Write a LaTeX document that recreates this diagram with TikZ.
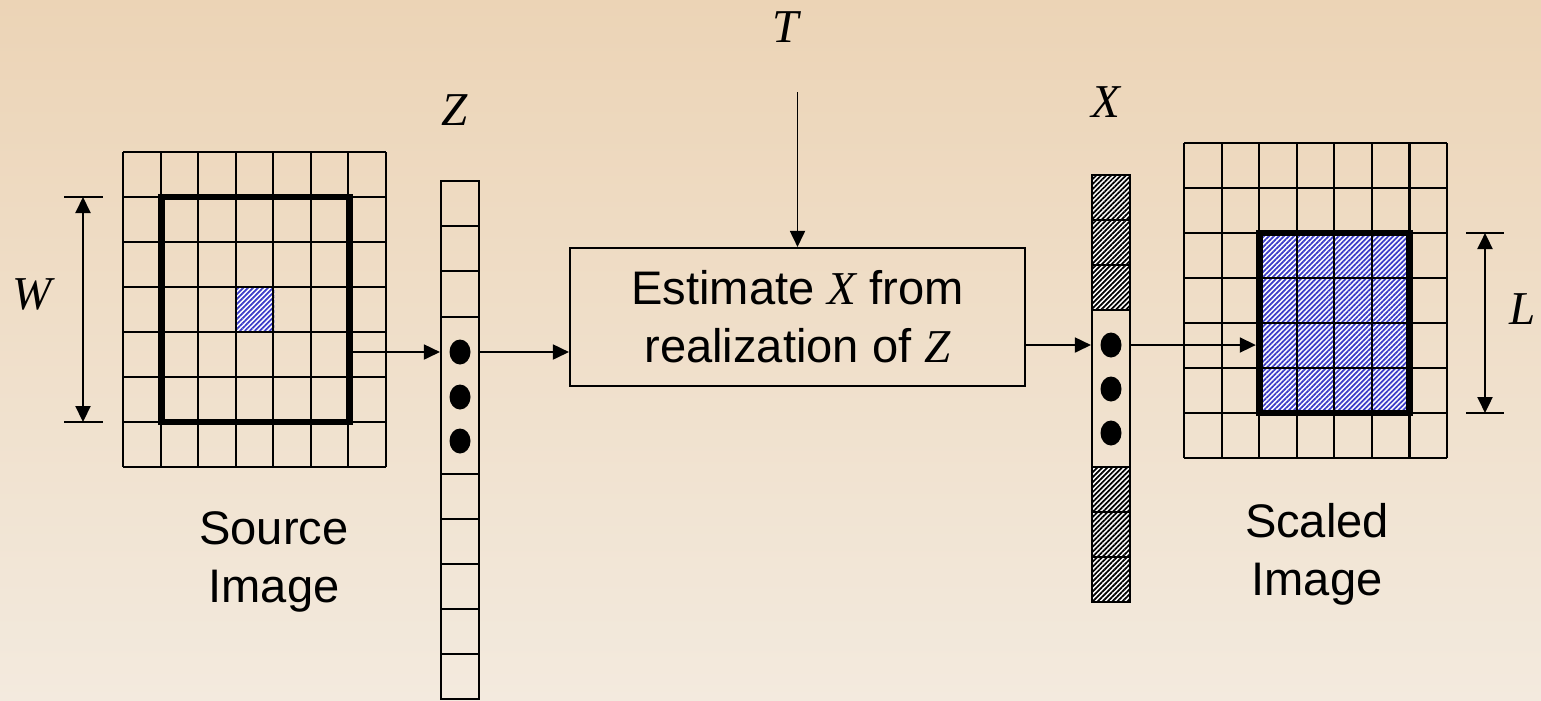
\documentclass[tikz,border=0pt]{standalone}
\usepackage{fontspec}
\setmainfont{Liberation Sans}
\newfontfamily\tms{Liberation Serif}
\usepackage{tikz}
\usetikzlibrary{arrows.meta,patterns.meta,shapes.geometric}
\definecolor{bgtop}{RGB}{236,212,182}
\definecolor{bgbot}{RGB}{243,234,222}
\definecolor{hatchblue}{RGB}{60,60,200}
\newcommand{\vname}[1]{{\tms\itshape #1}}

\begin{document}
\begin{tikzpicture}[x=0.1mm,y=-0.1mm,font=\fontsize{13.4}{16.5}\selectfont]
\useasboundingbox (0,0) rectangle (1541,700);
\shade[top color=bgtop,bottom color=bgbot] (0,0) rectangle (1541,700);

\tikzstyle{gridline}=[line width=0.6pt]
\tikzstyle{thickwin}=[draw,line width=1.9pt,inner sep=0pt]
\tikzstyle{vcol}=[draw,line width=0.6pt,inner sep=0pt,minimum width=3.8mm]
\tikzstyle{pixdot}=[fill=black,ellipse,inner sep=0pt,minimum width=2.1mm,minimum height=2.5mm]
\tikzstyle{arr}=[line width=0.5pt,-{Triangle[length=1.6mm,width=1.5mm]}]
\tikzstyle{dimarr}=[line width=0.6pt,{Triangle[length=1.6mm,width=1.5mm]}-{Triangle[length=1.6mm,width=1.5mm]}]
\tikzstyle{bluehatch}=[preaction={fill=white},pattern={Lines[angle=45,distance=1pt,line width=0.5pt]},pattern color=hatchblue]
\tikzstyle{blackhatch}=[preaction={fill=white},pattern={Lines[angle=45,distance=1pt,line width=0.5pt]},pattern color=black]

% source image
\fill[bluehatch] (236.7,287) rectangle ++(37.57,45);
\foreach \i in {0,...,7} {
  \draw[gridline] ({123+\i*37.57},152) -- ++(0,315);
  \draw[gridline] (123,{152+\i*45}) -- ++(263,0);
}
\node[thickwin,minimum width=18.76mm,minimum height=22.5mm] (srcwin) at (255.5,309.5) {};
\draw[gridline] (64,197) -- (103,197);
\draw[gridline] (64,422) -- (103,422);
\coordinate (wtop) at (83,197);
\coordinate (wbot) at (83,422);
\draw[dimarr] (wtop) -- (wbot);
\node (wlab) at (32,294) {\vname{W}};
\node[align=center] (srclab) at (274,562) {Source\\Image};

% Z column
\node[vcol,minimum height=51.8mm] (zcol) at (460,440) {};
\foreach \y in {226,271,317,474,519,564,609,654}
  \draw[gridline] (441,\y) -- (479,\y);
\foreach \y [count=\k] in {352,397,441}
  \node[pixdot] (zdot\k) at (460,\y) {};
\node (zlab) at (455,110) {\vname{Z}};

% estimator
\node[draw,line width=0.6pt,inner sep=0pt,minimum width=45.5mm,minimum height=13.8mm,align=center] (est) at (797.5,317) {Estimate \vname{X} from\\realization of \vname{Z}};
\node (tlab) at (786,27) {\vname{T}};
\coordinate (tin) at (797.5,92);
\draw[arr] (tin) -- (est.north);

% X column
\foreach \y in {175,220,265,467,512,557}
  \fill[blackhatch] (1092,\y) rectangle ++(38,45);
\node[vcol,minimum height=42.7mm] (xcol) at (1111,388.5) {};
\foreach \y in {220,265,310,467,512,557}
  \draw[gridline] (1092,\y) -- (1130,\y);
\foreach \y [count=\k] in {345,389,433}
  \node[pixdot] (xdot\k) at (1111,\y) {};
\node (xlab) at (1106,102) {\vname{X}};

% scaled image
\fill[bluehatch] (1259.1,233) rectangle (1409.4,413);
\foreach \i in {0,...,7} {
  \draw[gridline] ({1184+\i*37.57},143) -- ++(0,315);
  \draw[gridline] (1184,{143+\i*45}) -- ++(263,0);
}
\node[thickwin,minimum width=15.03mm,minimum height=18mm] (dstwin) at (1334.3,323) {};
\draw[gridline] (1466,233) -- (1504,233);
\draw[gridline] (1466,413) -- (1504,413);
\coordinate (ltop) at (1485,233);
\coordinate (lbot) at (1485,413);
\draw[dimarr] (ltop) -- (lbot);
\node (llab) at (1523,309) {\vname{L}};
\node[align=center] (dstlab) at (1317,554) {Scaled\\Image};

% connectors
\draw[arr] (srcwin.east |- zdot1) -- (zdot1 -| zcol.west);
\draw[arr] (zdot1 -| zcol.east) -- (zdot1 -| est.west);
\draw[arr] (xdot1 -| est.east) -- (xdot1 -| xcol.west);
\draw[arr] (xdot1 -| xcol.east) -- (xdot1 -| dstwin.west);
\end{tikzpicture}
\end{document}
